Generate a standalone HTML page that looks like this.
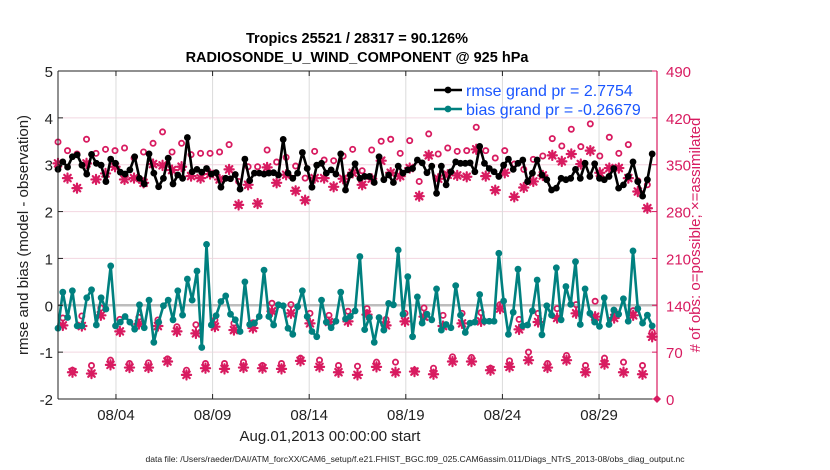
<!DOCTYPE html>
<html><head><meta charset="utf-8">
<style>
html,body{margin:0;padding:0;background:#fff;}
svg{display:block;font-family:"Liberation Sans",Arial,sans-serif;}
</style></head>
<body>
<svg id="chart" width="830" height="470" viewBox="0 0 830 470"></svg>
<script>
// ---- data ----
const xTickLabels = ["08/04","08/09","08/14","08/19","08/24","08/29"];
const xTickDays = [3,8,13,18,23,28];
const leftTicks = [-2,-1,0,1,2,3,4,5];
const rightTicks = [0,70,140,210,280,350,420,490];

const rmse = [2.90,3.06,2.95,3.17,3.21,2.99,2.80,3.22,3.03,2.99,2.64,3.12,3.03,2.84,2.80,2.89,3.17,2.71,2.59,3.23,2.82,2.53,2.71,3.14,2.59,2.78,2.71,3.58,2.85,2.90,2.84,2.92,2.80,2.83,2.52,2.71,2.70,2.79,2.48,3.12,2.66,2.82,2.82,
2.80,2.82,2.83,2.78,3.54,2.82,2.71,2.82,3.26,2.92,2.52,2.99,3.03,2.82,2.89,2.80,3.23,2.46,2.78,3.02,2.71,2.75,2.75,2.62,3.17,2.68,2.78,2.62,2.97,2.82,2.89,2.92,3.10,3.04,2.83,2.97,2.39,2.97,2.57,2.85,3.06,3.03,
3.03,3.04,2.85,3.39,3.03,2.92,2.85,2.75,2.99,3.12,2.90,3.03,3.10,2.64,2.82,3.10,2.78,2.68,2.46,2.50,2.71,2.68,2.71,2.90,2.71,3.03,2.75,3.02,2.71,2.68,2.75,2.92,2.50,2.57,2.75,3.06,2.64,2.33,2.68,3.23];
const bias = [-0.49,0.28,-0.26,0.31,-0.44,-0.44,0.16,0.33,-0.42,0.16,-0.08,0.84,-0.44,-0.36,-0.24,-0.36,-0.51,0.01,-0.48,0.11,-0.79,-0.36,-0.01,0.11,-0.31,0.31,-0.21,0.56,0.11,0.73,-0.90,1.30,-0.42,-0.22,0.08,0.20,-0.19,-0.31,-0.56,0.50,-0.41,-0.38,-0.24,
0.75,-0.24,-0.42,0.01,-0.01,-0.49,-0.62,-0.03,0.31,-0.24,-0.56,-0.67,0.11,-0.36,-0.48,-0.34,0.28,-0.29,-0.24,-0.12,1.04,-0.52,-0.26,-0.79,-0.26,-0.53,0.04,0.01,1.18,-0.19,0.61,-0.67,0.18,-0.38,-0.19,-0.31,0.35,-0.53,-0.41,-0.48,0.42,-0.21,
-0.58,-0.38,-0.36,0.23,-0.34,-0.34,-0.34,1.11,0.09,-0.62,-0.15,0.77,-0.44,-0.42,-0.12,0.54,-0.63,-0.01,-0.21,0.80,-0.31,0.40,0.02,0.93,-0.41,0.35,-0.17,-0.36,-0.45,0.16,-0.41,-0.10,-0.19,0.14,-0.34,1.16,-0.07,-0.38,-0.21,-0.44];

const possibleTop = [384,371,366,388,367,373,371,375,360,369,382,399,369,382,365,367,367,369,380,325,347,347,
372,354,361,348,330,370,357,356,363,373,341,372,385,388,367,386,325,396,366,375,370,
371,406,371,360,371,351,343,358,363,389,378,403,377,411,363,391,367,380,326,320];
const assimTop = [352,330,315,352,328,337,347,328,330,323,351,349,342,347,333,330,336,328,343,290,320,292,
346,323,335,311,297,330,330,317,329,338,320,329,356,338,333,345,303,364,329,335,334,
332,373,333,312,338,302,316,325,334,364,355,366,351,371,338,345,345,330,310,285];
const possibleMid = [121,124,136,119,122,118,108,111,118,113,114,143,141,128,125,131,135,119,128,136,125,128,129,141,119,128,135,141,146,132,132,100];
const assimMid = [110,109,125,101,112,109,101,98,108,103,106,131,128,113,115,116,126,110,116,123,109,113,116,135,104,115,121,128,123,121,125,93];
const possibleLow = [43,50,58,53,54,60,43,53,53,55,50,53,61,58,50,49,55,55,43,46,63,62,46,57,70,53,65,50,61,55,50];
const assimLow = [40,38,51,47,47,56,36,46,45,47,46,45,57,48,40,36,48,40,41,37,56,56,43,48,58,47,58,40,52,40,37];
const endAssim = [0];

// ---- layout ----
const X0=58, X1=657, Y0=399, Y1=71;
const DAYS=31;
const LMIN=-2, LMAX=5, RMAX=490;
const PINK="#d81b60", TEAL="#00807f";
const svg=document.getElementById('chart');
const NS="http://www.w3.org/2000/svg";
const xs=d=>X0+(X1-X0)*d/DAYS;
const yl=v=>Y0-(Y0-Y1)*(v-LMIN)/(LMAX-LMIN);
const yr=c=>Y0-(Y0-Y1)*c/RMAX;
function el(tag,attrs,parent){const e=document.createElementNS(NS,tag);for(const k in attrs)e.setAttribute(k,attrs[k]);(parent||svg).appendChild(e);return e;}
function txt(s,attrs,parent){const e=el('text',attrs,parent);e.textContent=s;return e;}
function days(n,start,end){const a=[];for(let i=0;i<n;i++)a.push(start+(end-start)*i/(n-1));return a;}

// grid
const grid=el('g',{});


leftTicks.forEach(v=>{ if(v>LMIN&&v<LMAX){const l=el('line',{x1:X0,x2:X1,y1:yl(v),y2:yl(v),stroke:'#f2d6e0','stroke-width':1},grid);

}});
xTickDays.forEach(d=>{const l=el('line',{x1:xs(d),x2:xs(d),y1:Y1,y2:Y0,stroke:'#dcdcdc','stroke-width':1},grid);

});
// zero line
const zl=el('line',{x1:X0,x2:X1,y1:yl(0),y2:yl(0),stroke:'#bdbdbd','stroke-width':2.5});



// pink markers
function circ(x,y,g){const c=el('circle',{cx:x,cy:y,r:2.6,fill:'none',stroke:PINK,'stroke-width':1.8},g);

}
function star(x,y,g){const r=4.6;let d='';for(let k=0;k<4;k++){const a=k*Math.PI/4;d+=`M${x-r*Math.cos(a)},${y-r*Math.sin(a)}L${x+r*Math.cos(a)},${y+r*Math.sin(a)}`;}
const p=el('path',{d:d,stroke:PINK,'stroke-width':2.2,'stroke-linecap':'round'},g);

}
const obsG=el('g',{});


const dTop=days(possibleTop.length,0,30.5), dMid=days(possibleMid.length,0.25,30.75), dLow=days(possibleLow.length,0.75,30.25);
possibleTop.forEach((c,i)=>circ(xs(dTop[i]),yr(c),obsG));
assimTop.forEach((c,i)=>star(xs(dTop[i]),yr(c),obsG));
possibleMid.forEach((c,i)=>circ(xs(dMid[i]),yr(c),obsG));
assimMid.forEach((c,i)=>star(xs(dMid[i]),yr(c),obsG));
possibleLow.forEach((c,i)=>circ(xs(dLow[i]),yr(c),obsG));
assimLow.forEach((c,i)=>star(xs(dLow[i]),yr(c),obsG));
endAssim.forEach(c=>{const p=el('path',{d:`M${X1-4},${yr(c)}L${X1},${yr(c)-4}L${X1+4},${yr(c)}L${X1},${yr(c)+4}Z`,fill:PINK},obsG);

});

// line series
function series(vals,color,name){
  const g=el('g',{});
  
  
  const dd=days(vals.length,0,30.75);
  const pts=vals.map((v,i)=>xs(dd[i]).toFixed(1)+','+yl(v).toFixed(1)).join(' ');
  const pl=el('polyline',{points:pts,fill:'none',stroke:color,'stroke-width':2.6,'stroke-linejoin':'round'},g);
  
  
  vals.forEach((v,i)=>{const c=el('circle',{cx:xs(dd[i]),cy:yl(v),r:3.4,fill:color},g);
  
  });
}
series(bias,TEAL,'bias-series');
series(rmse,'#000','rmse-series');

// axes
const ax=el('g',{});


el('line',{x1:X0,x2:X0,y1:Y1,y2:Y0,stroke:'#222','stroke-width':1},ax);
el('line',{x1:X0,x2:X1,y1:Y0,y2:Y0,stroke:'#222','stroke-width':1},ax);
el('line',{x1:X0,x2:X1,y1:Y1,y2:Y1,stroke:'#222','stroke-width':1},ax);
el('line',{x1:X1,x2:X1,y1:Y1,y2:Y0,stroke:PINK,'stroke-width':1.2},ax);
leftTicks.forEach(v=>{el('line',{x1:X0,x2:X0+5,y1:yl(v),y2:yl(v),stroke:'#222'},ax);
  const t=txt(String(v),{x:X0-5,y:yl(v)+6,'text-anchor':'end','font-size':15,fill:'#222'},ax);
  
  });
rightTicks.forEach(c=>{el('line',{x1:X1-5,x2:X1,y1:yr(c),y2:yr(c),stroke:PINK},ax);
  const t=txt(String(c),{x:X1+9,y:yr(c)+6,'font-size':15,fill:PINK},ax);
  
  });
xTickDays.forEach((d,i)=>{el('line',{x1:xs(d),x2:xs(d),y1:Y0,y2:Y0-5,stroke:'#222'},ax);
  el('line',{x1:xs(d),x2:xs(d),y1:Y1,y2:Y1+5,stroke:'#222'},ax);
  const t=txt(xTickLabels[i],{x:xs(d),y:Y0+21,'text-anchor':'middle','font-size':15,fill:'#222'},ax);
  
  });
</script>
<div style="position:absolute;left:0;top:0;width:830px;height:470px;pointer-events:none;">
<svg width="830" height="470" style="position:absolute;left:0;top:0">
  <text x="357" y="43" text-anchor="middle" font-size="14.5" font-weight="bold" font-family="Liberation Sans, sans-serif">Tropics 25521 / 28317 = 90.126%</text>
  <text x="357" y="62" text-anchor="middle" font-size="14.5" font-weight="bold" font-family="Liberation Sans, sans-serif">RADIOSONDE_U_WIND_COMPONENT @ 925 hPa</text>
  <text transform="translate(28,235) rotate(-90)" text-anchor="middle" font-size="15" fill="#222" font-family="Liberation Sans, sans-serif">rmse and bias (model - observation)</text>
  <text transform="translate(700,235) rotate(-90)" text-anchor="middle" font-size="15" fill="#d81b60" font-family="Liberation Sans, sans-serif"># of obs: o=possible; ×=assimilated</text>
  <text x="330" y="441" text-anchor="middle" font-size="15" fill="#222" font-family="Liberation Sans, sans-serif">Aug.01,2013 00:00:00 start</text>
  <text x="415" y="462" text-anchor="middle" font-size="8.6" fill="#222" font-family="Liberation Sans, sans-serif">data file: /Users/raeder/DAI/ATM_forcXX/CAM6_setup/f.e21.FHIST_BGC.f09_025.CAM6assim.011/Diags_NTrS_2013-08/obs_diag_output.nc</text>
  <g>
    <g>
      <line x1="434" x2="462" y1="90" y2="90" stroke="#000" stroke-width="2.6"/>
      <circle cx="448" cy="90" r="3.4" fill="#000"/>
      <text x="466" y="96" font-size="16" fill="#1a56ff" font-family="Liberation Sans, sans-serif">rmse grand pr = 2.7754</text>
    </g>
    <g>
      <line x1="434" x2="462" y1="109" y2="109" stroke="#00807f" stroke-width="2.6"/>
      <circle cx="448" cy="109" r="3.4" fill="#00807f"/>
      <text x="466" y="115" font-size="16" fill="#1a56ff" font-family="Liberation Sans, sans-serif">bias grand pr = -0.26679</text>
    </g>
  </g>
</svg>
</div>
</body></html>
